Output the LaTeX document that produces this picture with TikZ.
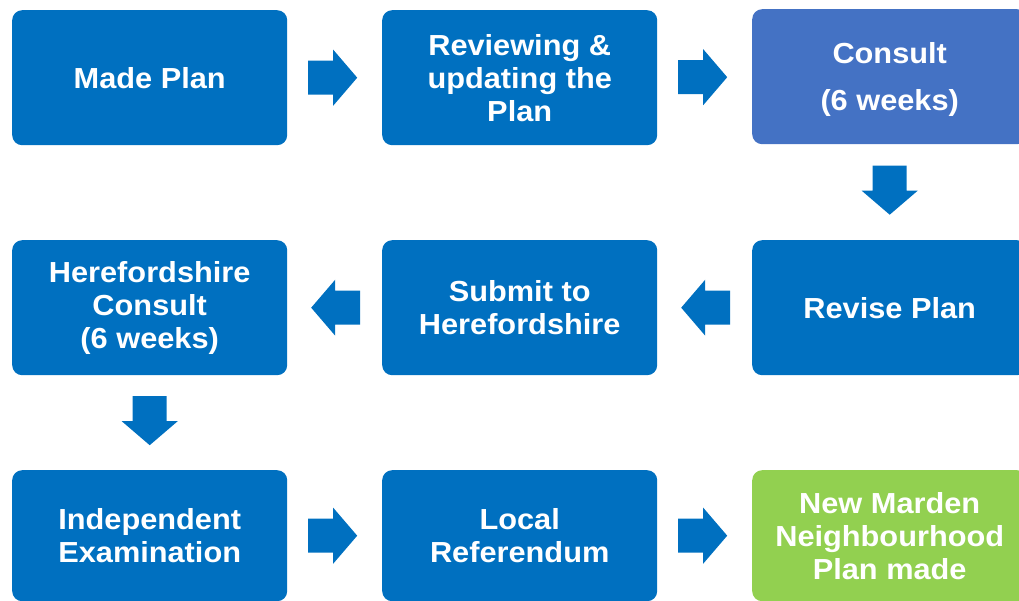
\documentclass[tikz,border=0pt]{standalone}
\usepackage{fontspec}
\setmainfont{Liberation Sans}[FakeStretch=1.06]
\usetikzlibrary{calc}
\definecolor{boxblue}{HTML}{0070C0}
\definecolor{consultblue}{HTML}{4472C4}
\definecolor{boxgreen}{HTML}{92D050}
\tikzset{
  box/.style={rectangle, rounded corners=10pt, fill=boxblue, text=white,
    font=\fontsize{29}{33}\selectfont\bfseries, align=center,
    minimum width=275pt, minimum height=135pt, inner sep=0pt, anchor=north west},
  lastrow/.style={minimum height=131pt},
  rarr/.pic={\fill[boxblue] (-24.5,-17) -- (0.5,-17) -- (0.5,-28) -- (24.5,0) -- (0.5,28) -- (0.5,17) -- (-24.5,17) -- cycle;},
  larr/.pic={\fill[boxblue] (24.5,-17) -- (-0.5,-17) -- (-0.5,-28) -- (-24.5,0) -- (-0.5,28) -- (-0.5,17) -- (24.5,17) -- cycle;},
  darr/.pic={\fill[boxblue] (-17,-24.5) -- (-17,0.5) -- (-28,0.5) -- (0,24.5) -- (28,0.5) -- (17,0.5) -- (17,-24.5) -- cycle;}
}
\begin{document}
\begin{tikzpicture}[x=1pt,y=-1pt]
\useasboundingbox (0,0) rectangle (1019,601);
\clip (0,0) rectangle (1019,601);
\node[box] (made) at (12,10) {Made Plan};
\node[box] (review) at (382,10) {Reviewing \&\\updating the\\Plan};
\node[box, fill=consultblue] (consult) at (752,9) {\rule{0pt}{27pt}Consult\\[14pt](6 weeks)};
\node[box] (revise) at (752,240) {Revise Plan};
\node[box] (submit) at (382,240) {Submit to\\Herefordshire};
\node[box] (hconsult) at (12,240) {Herefordshire\\Consult\\(6 weeks)};
\node[box, lastrow] (exam) at (12,470) {Independent\\Examination};
\node[box, lastrow] (refer) at (382,470) {Local\\Referendum};
\node[box, lastrow, fill=boxgreen] (final) at (752,470) {New Marden\\Neighbourhood\\Plan made};
\path ($(made.east)!0.5!(review.west)+(-2,0)$) pic {rarr};
\path ($(review.east)!0.5!(consult.west)+(-2,0)$) pic {rarr};
\path ($(consult.south)!0.5!(revise.north)+(0,-2)$) pic {darr};
\path ($(revise.west)!0.5!(submit.east)+(1,0)$) pic {larr};
\path ($(submit.west)!0.5!(hconsult.east)+(1,0)$) pic {larr};
\path ($(hconsult.south)!0.5!(exam.north)+(0,-2)$) pic {darr};
\path ($(exam.east)!0.5!(refer.west)+(-2,0)$) pic {rarr};
\path ($(refer.east)!0.5!(final.west)+(-2,0)$) pic {rarr};
\end{tikzpicture}
\end{document}
